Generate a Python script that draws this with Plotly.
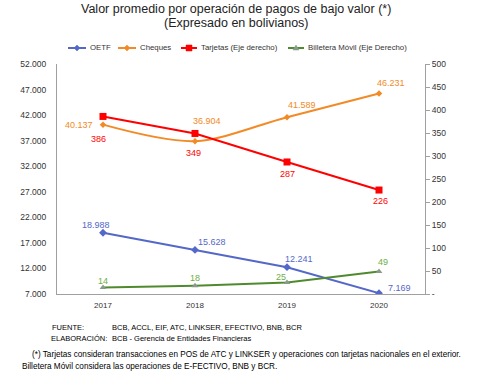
import plotly.graph_objects as go

years = [2017, 2018, 2019, 2020]
oetf = [18988, 15628, 12241, 7169]
cheques = [40137, 36904, 41589, 46231]
tarjetas = [386, 349, 287, 226]
billetera = [14, 18, 25, 49]

left_ticks = [7000, 12000, 17000, 22000, 27000, 32000, 37000, 42000, 47000, 52000]
right_ticks = [0, 50, 100, 150, 200, 250, 300, 350, 400, 450, 500]
right_ticktext = ["-"] + [str(v) for v in right_ticks[1:]]
names = ["OETF", "Cheques", "Tarjetas (Eje derecho)", "Billetera Móvil (Eje Derecho)"]

C_OETF = "#5468C8"
C_CHQ = "#F28A26"
C_TAR = "#FF0000"
C_BIL = "#4F8A2F"
C_BIL_T = "#6FAE45"
C_TRI = "#8A9A8A"

W, H = 500, 387
L, R, T, B = 57, 425, 64, 294
FONT = "Arial, Liberation Sans, sans-serif"

def fmt(v):
    return f"{v:,}".replace(",", ".")

fig = go.Figure()
fig.add_trace(go.Scatter(x=years, y=oetf, name=names[0], mode="lines+markers",
                         line=dict(color=C_OETF, width=2),
                         marker=dict(symbol="diamond", size=6, color=C_OETF)))
fig.add_trace(go.Scatter(x=years, y=cheques, name=names[1], mode="lines+markers",
                         line=dict(color=C_CHQ, width=2, shape="spline", smoothing=0.9),
                         marker=dict(symbol="diamond", size=5, color=C_CHQ)))
fig.add_trace(go.Scatter(x=years, y=tarjetas, name=names[2], mode="lines+markers",
                         yaxis="y2", line=dict(color=C_TAR, width=2),
                         marker=dict(symbol="square", size=7, color=C_TAR)))
fig.add_trace(go.Scatter(x=years, y=billetera, name=names[3], mode="lines+markers",
                         yaxis="y2", line=dict(color=C_BIL, width=2),
                         marker=dict(symbol="triangle-up", size=6, color=C_TRI)))

ann = []
def lab(x, y, text, color, yref, xs, ys):
    ann.append(dict(x=x, y=y, xref="x", yref=yref, text=text, showarrow=False,
                    xshift=xs, yshift=ys, xanchor="center", yanchor="middle",
                    font=dict(family=FONT, size=9, color=color)))

oetf_off = [(-7, 8), (17, 8), (12, 8), (20, 5)]
chq_off = [(-24, 0), (12, 20), (15, 12), (12, 10)]
tar_off = [(-5, -23), (-2, -20), (0, -12), (1, -11)]
bil_off = [(0, 7), (0, 8), (-6, 6), (4, 9)]
for i, yv in enumerate(years):
    lab(yv, oetf[i], fmt(oetf[i]), C_OETF, "y", *oetf_off[i])
    lab(yv, cheques[i], fmt(cheques[i]), C_CHQ, "y", *chq_off[i])
    lab(yv, tarjetas[i], str(tarjetas[i]), C_TAR, "y2", *tar_off[i])
    lab(yv, billetera[i], str(billetera[i]), C_BIL_T, "y2", *bil_off[i])

def px(x, y):
    return (x - L) / (R - L), (B - y) / (B - T)

def ptext(x, y, text, size, xanchor="left", color="#000"):
    xp, yp = px(x, y)
    ann.append(dict(x=xp, y=yp, xref="paper", yref="paper", text=text, showarrow=False,
                    xanchor=xanchor, yanchor="middle",
                    font=dict(family=FONT, size=size, color=color)))

ptext(236, 9, "Valor promedio por operación de pagos de bajo valor (*)", 12.5, "center", "#222")
ptext(236, 23, "(Expresado en bolivianos)", 12.5, "center", "#222")
ptext(50, 327, "FUENTE:", 7.5)
ptext(110, 327, "BCB, ACCL, EIF, ATC, LINKSER, EFECTIVO, BNB, BCR", 7.5)
ptext(49, 338, "ELABORACIÓN:", 7.5)
ptext(110, 338, "BCB - Gerencia de Entidades Financieras", 7.5)
ptext(30, 354, "(*) Tarjetas consideran transacciones en POS de ATC y LINKSER y operaciones con tarjetas nacionales en el exterior.", 8.2)
ptext(20, 366, "Billetera Móvil considera las operaciones de E-FECTIVO, BNB y BCR.", 8.2)

# manual legend (line segment + marker + label)
shapes = []
LEG_Y = 48
leg = [(68, 86, C_OETF, C_OETF, "diamond"), (118, 136, C_CHQ, C_CHQ, "diamond"),
       (181, 197, C_TAR, C_TAR, "square"), (288, 304, C_BIL, C_TRI, "triangle")]
for (x0, x1, lc, mc, sym), nm in zip(leg, names):
    a0, yy = px(x0, LEG_Y)
    a1, _ = px(x1, LEG_Y)
    shapes.append(dict(type="line", xref="paper", yref="paper", x0=a0, x1=a1, y0=yy, y1=yy,
                       line=dict(color=lc, width=2)))
    cx = (x0 + x1) / 2
    if sym == "diamond":
        pts = [(cx, LEG_Y - 3), (cx + 3, LEG_Y), (cx, LEG_Y + 3), (cx - 3, LEG_Y)]
    elif sym == "square":
        pts = [(cx - 3, LEG_Y - 3), (cx + 3, LEG_Y - 3), (cx + 3, LEG_Y + 3), (cx - 3, LEG_Y + 3)]
    else:
        pts = [(cx, LEG_Y - 3), (cx + 3, LEG_Y + 2), (cx - 3, LEG_Y + 2)]
    pp = [px(a, b) for a, b in pts]
    path = "M " + " L ".join(f"{a:.5f},{b:.5f}" for a, b in pp) + " Z"
    shapes.append(dict(type="path", xref="paper", yref="paper", path=path,
                       fillcolor=mc, line=dict(color=mc, width=0.5)))
    ptext(x1 + 2, LEG_Y, nm, 7.8, "left", "#333")

fig.update_layout(
    width=W, height=H,
    margin=dict(l=L, r=W - R, t=T, b=H - B, pad=0, autoexpand=False),
    paper_bgcolor="white", plot_bgcolor="white",
    separators=",.",
    font=dict(family=FONT, size=8, color="#333"),
    showlegend=False,
    xaxis=dict(range=[2016.5, 2020.5], tickvals=years, showgrid=False, showline=True,
               linecolor="#A0A0A0", linewidth=1, ticks="outside", ticklen=3, tickcolor="white",
               tickfont=dict(size=8, color="#333"), zeroline=False),
    yaxis=dict(range=[7000, 52000], tickvals=left_ticks, tickformat=",d", showgrid=False,
               showline=True, linecolor="#A0A0A0", ticks="outside", ticklen=8, tickcolor="white",
               zeroline=False, tickfont=dict(size=8.5, color="#333")),
    yaxis2=dict(range=[0, 500], overlaying="y", side="right", tickvals=right_ticks,
                ticktext=right_ticktext, showgrid=False, showline=True, linecolor="#A0A0A0",
                ticks="outside", ticklen=4, tickcolor="#A0A0A0", zeroline=False,
                tickfont=dict(size=8.5, color="#333")),
    annotations=ann,
    shapes=shapes,
)
fig.write_html("out.html", config={"displayModeBar": False},
               post_script="document.body.style.margin='0px';document.body.style.padding='0px';")
